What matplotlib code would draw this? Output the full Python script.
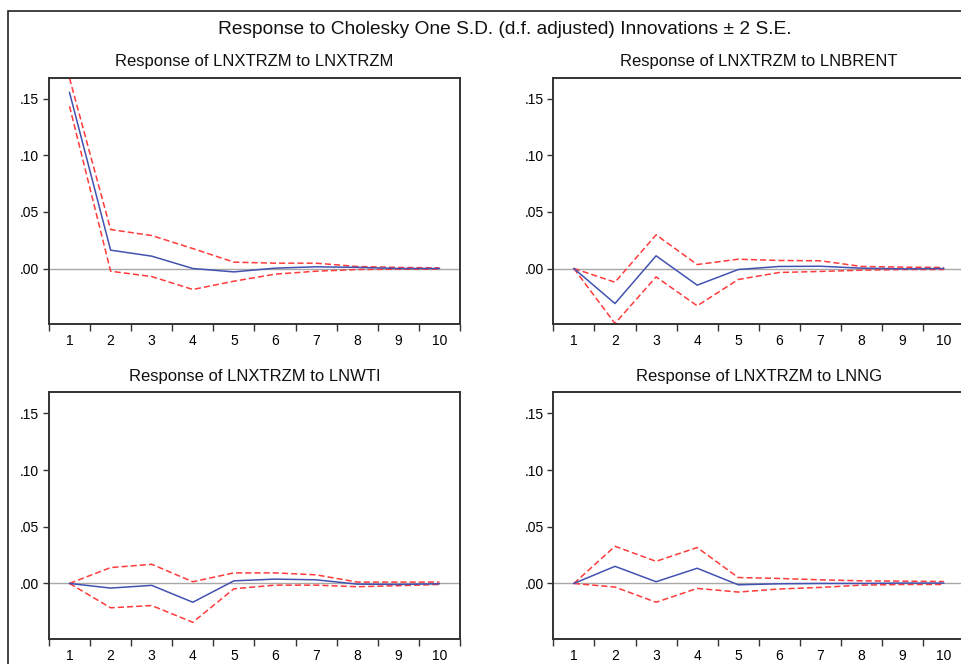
import numpy as np
import matplotlib
matplotlib.use("Agg")
import matplotlib.pyplot as plt
from matplotlib.patches import Rectangle
from matplotlib.ticker import FuncFormatter, FixedLocator

plt.rcParams['font.family'] = ['Liberation Sans', 'DejaVu Sans']

# periods
periods = [1, 2, 3, 4, 5, 6, 7, 8, 9, 10]

titles = ["Response of LNXTRZM to LNXTRZM", "Response of LNXTRZM to LNBRENT",
          "Response of LNXTRZM to LNWTI", "Response of LNXTRZM to LNNG"]

# responses (blue), upper / lower 2 S.E. bands (red dashed)
resp_xtrzm = [0.1553, 0.0162, 0.0109, 0.0000, -0.0030, 0.0003, 0.0015, 0.0010, 0.0000, 0.0000]
upper_xtrzm = [0.1680, 0.0344, 0.0291, 0.0176, 0.0056, 0.0047, 0.0047, 0.0018, 0.0009, 0.0006]
lower_xtrzm = [0.1432, -0.0024, -0.0071, -0.0185, -0.0112, -0.0050, -0.0024, -0.0009, -0.0006, -0.0006]

resp_brent = [0.0, -0.0309, 0.0112, -0.0147, -0.0009, 0.0018, 0.0020, 0.0003, -0.0003, 0.0]
upper_brent = [0.0, -0.0121, 0.0297, 0.0035, 0.0082, 0.0071, 0.0068, 0.0018, 0.0012, 0.0009]
lower_brent = [0.0, -0.0485, -0.0074, -0.0329, -0.0097, -0.0035, -0.0026, -0.0015, -0.0009, -0.0009]

resp_wti = [0.0, -0.0041, -0.0017, -0.0166, 0.0023, 0.0038, 0.0032, -0.0006, -0.0009, -0.0003]
upper_wti = [0.0, 0.0140, 0.0169, 0.0015, 0.0093, 0.0093, 0.0076, 0.0012, 0.0012, 0.0012]
lower_wti = [0.0, -0.0215, -0.0195, -0.0343, -0.0047, -0.0015, -0.0015, -0.0029, -0.0020, -0.0009]

resp_ng = [0.0, 0.0151, 0.0015, 0.0134, -0.0012, -0.0003, 0.0, 0.0, 0.0003, 0.0003]
upper_ng = [0.0, 0.0328, 0.0195, 0.0317, 0.0052, 0.0044, 0.0032, 0.0023, 0.0020, 0.0017]
lower_ng = [0.0, -0.0032, -0.0166, -0.0044, -0.0076, -0.0049, -0.0035, -0.0015, -0.0009, -0.0009]

series = [(resp_xtrzm, upper_xtrzm, lower_xtrzm),
          (resp_brent, upper_brent, lower_brent),
          (resp_wti, upper_wti, lower_wti),
          (resp_ng, upper_ng, lower_ng)]

yticks = [0.0, 0.05, 0.10, 0.15]

BLUE = "#4252b0"
RED = "#ff3b3b"

fig = plt.figure(figsize=(9.62, 6.64), dpi=100)

# outer frame (cut at right/bottom like the screenshot)
fig.patches.append(Rectangle((8 / 962, -0.05), 1.1, 1 - 11 / 664 + 0.05, transform=fig.transFigure,
                             fill=False, edgecolor="#222222", linewidth=1.2))

fig.text(0.525, 0.956, "Response to Cholesky One S.D. (d.f. adjusted) Innovations \u00b1 2 S.E.",
         ha="center", va="center", fontsize=13.8, color="#111111")

positions = [(0.0509, 0.5120), (0.5752, 0.5120), (0.0509, 0.0377), (0.5752, 0.0377)]
w, h = 0.4272, 0.3712

for (l, b), title, (resp, up, lo) in zip(positions, titles, series):
    ax = fig.add_axes([l, b, w, h])
    ax.axhline(0, color="#a8a8a8", linewidth=1.0, zorder=1)
    ax.plot(periods, up, color=RED, linestyle=(0, (4, 2)), linewidth=1.1, zorder=2)
    ax.plot(periods, lo, color=RED, linestyle=(0, (4, 2)), linewidth=1.1, zorder=2)
    ax.plot(periods, resp, color=BLUE, linewidth=1.1, zorder=3)
    ax.set_xlim(0.5, 10.5)
    ax.set_ylim(-0.049, 0.1685)
    ax.xaxis.set_major_locator(FixedLocator(np.arange(0.5, 11, 1)))
    ax.xaxis.set_minor_locator(FixedLocator(periods))
    ax.xaxis.set_major_formatter(FuncFormatter(lambda v, p: ""))
    ax.xaxis.set_minor_formatter(FuncFormatter(lambda v, p: "%d" % v))
    ax.tick_params(axis="x", which="major", direction="out", length=5, width=1.0, color="#333333")
    ax.tick_params(axis="x", which="minor", length=0, pad=7, labelsize=10)
    ax.set_yticks(yticks)
    ax.yaxis.set_major_formatter(FuncFormatter(lambda v, p: ("%.2f" % v).lstrip("0")))
    ax.tick_params(axis="y", direction="out", length=4, width=1.0, color="#333333", pad=3, labelsize=10)
    for s in ax.spines.values():
        s.set_linewidth(1.4)
        s.set_color("#333333")
    ax.set_title(title, fontsize=12, pad=8, color="#111111")

fig.savefig("out.png", dpi=100)
